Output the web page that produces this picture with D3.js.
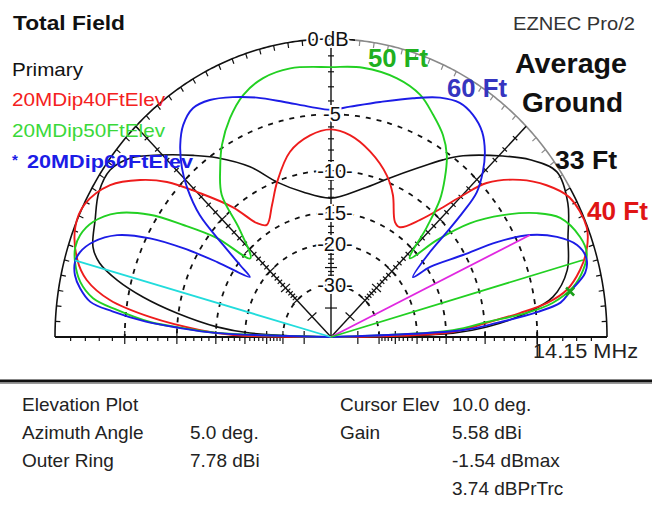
<!DOCTYPE html>
<html><head><meta charset="utf-8">
<script src="https://cdn.jsdelivr.net/npm/d3@7"></script>
<style>
html,body{margin:0;padding:0;background:#fff;}
svg{display:block;font-family:"Liberation Sans",Arial,sans-serif;}
</style></head><body>
<svg id="chart" width="652" height="508"></svg>
<script>
// Elevation patterns: [elevation angle (deg), gain in dB relative to the outer ring]
const trace33 = [[0,-99],[1.7,-14],[3.4,-9.8],[6.5,-5.8],[9.5,-3.5],[14.7,-2.1],[21.3,-1.4],[27.6,-0.55],[34.1,-0.2],[39.5,-1.15],[44.3,-2.4],[51.8,-4.4],[55.7,-5.65],[61.2,-7.5],[68.2,-9.5],[76.9,-11.5],[90,-13.1],[101.8,-12.0],[110.6,-10.1],[117.2,-7.6],[124.5,-5.4],[129.3,-4.1],[135.4,-2.4],[140.5,-1.0],[145,-0.4],[150,-0.5],[155.3,-1.05],[160.7,-1.55],[163.5,-2.3],[166.2,-3.9],[168.9,-6.3],[171.8,-9.8],[175.3,-15.1],[177.4,-21],[180,-99]];
const trace40 = [[0,-99],[2.2,-14.0],[4.8,-9.8],[6.7,-6.4],[8.3,-4.0],[10.5,-2.4],[14,-1.25],[17.5,-0.5],[21.7,-0.05],[28.5,-0.3],[33.1,-1.2],[37.6,-2.5],[42.5,-4.6],[44.9,-6.8],[47,-8.9],[50.6,-11.6],[55.9,-13.9],[59,-13.7],[64.8,-11.0],[69.5,-9.4],[77.2,-7.7],[84.2,-6.6],[90,-6.2],[96.4,-6.6],[103.5,-7.7],[110.6,-10.1],[115.8,-12.2],[121.7,-14.0],[125,-13.1],[129.2,-9.9],[134.5,-6.7],[138.8,-4.05],[142.7,-2.4],[147.5,-0.9],[153.4,-0.05],[158.3,-0.05],[164.3,-0.8],[167.8,-1.7],[171.2,-3.6],[174.2,-7.2],[177.2,-12.8],[178.9,-17.8],[180,-99]];
const trace50 = [[0,-99],[3.0,-14],[5.1,-9.7],[6.5,-5.8],[8.1,-3.6],[10.8,-1.95],[13.8,-1.05],[16.9,-0.55],[20.4,-0.65],[25.7,-1.4],[29.1,-2.7],[33.3,-5.05],[37.2,-7.9],[40.3,-11.8],[42.8,-16.2],[46.7,-11.7],[49.4,-8.6],[52.3,-6.75],[55.5,-5.15],[59.1,-4.05],[63.6,-3.15],[68.3,-2.3],[74.6,-1.8],[82.7,-1.6],[90,-1.7],[99.3,-1.55],[105.8,-1.75],[111.4,-2.35],[116.5,-3.4],[121.5,-4.8],[125.3,-6.25],[129.7,-8.2],[132.6,-12.3],[137.9,-16.0],[141.2,-10.9],[144.9,-7.3],[148,-4.4],[151.8,-2.2],[155.9,-0.97],[159.4,-0.5],[162.1,-0.45],[164.8,-0.68],[168.5,-1.3],[171.4,-2.35],[173.3,-4.25],[175.6,-7.2],[176.8,-10.7],[178.1,-15.2],[180,-99]];
const trace60 = [[0,-99],[2.8,-12.6],[4.5,-8.7],[6.4,-4.9],[7.9,-3.0],[10,-2.2],[13.2,-0.95],[16,-0.66],[19.1,-1.0],[22.3,-2.1],[25.4,-3.87],[27.9,-6.6],[29.9,-10.2],[33.2,-14.5],[34.1,-17.6],[38.5,-13.4],[40,-10.3],[41.2,-7.8],[42.6,-5.7],[45.2,-4.25],[48.1,-3.1],[51.5,-2.2],[55.4,-1.7],[59.3,-1.55],[63.8,-1.9],[69.7,-2.7],[77.3,-3.65],[84.9,-4.35],[90,-4.65],[95.6,-4.35],[102.4,-3.65],[108.5,-2.85],[113.8,-2.2],[118.9,-1.65],[123.1,-1.5],[127,-2.0],[130.3,-2.9],[133.6,-4.2],[136.2,-5.6],[139.3,-8.0],[141.7,-12.0],[143.8,-15.4],[145.6,-17.7],[148.6,-12.5],[150.9,-8.4],[153.2,-5.3],[156.2,-2.85],[159.7,-1.45],[162.6,-0.83],[164.8,-0.68],[167.4,-0.87],[169.8,-1.36],[172.3,-2.2],[173.8,-3.9],[175.6,-6.8],[176.8,-10.2],[178.1,-14.8],[180,-99]];

// Straight reference rays from the origin: [elevation, dB]
const rayCyan = [164.5, -0.65];
const rayMagenta = [25.4, -3.87];
const rayGreen = [15.8, -0.9];

// Grid rings and their labels
const ringLevels = [-5, -10, -15, -20, -30];
const ringLabels = ["-5", "-10-", "-15-", "-20-", "-30-"];

// Cursor readout
const outerRingDbi = 7.78;
const cursorElev = 10.0;
const cursorGainDbi = 5.58;

const legendNames = ["20MDip40FtElev", "20MDip50FtElev", "20MDip60FtElev"];
const infoLeft = [["Elevation Plot", ""], ["Azimuth Angle", "5.0 deg."], ["Outer Ring", "7.78 dBi"]];
const infoRight = [["Cursor Elev", "10.0 deg."], ["Gain", "5.58 dBi"], ["", "-1.54 dBmax"], ["", "3.74 dBPrTrc"]];

const svg = d3.select("#chart");
const cx = 331, cy = 337, RX = 276, RY = 298;

// ARRL log-periodic radial scale: dB -> normalized radius
const arrl = d3.scaleLog().domain([Math.pow(0.89, 15), 1]).range([-30, 0]);
const rad = dB => arrl.invert(dB);
const xs = d3.scaleLinear().domain([-1, 1]).range([cx - RX, cx + RX]);
const ys = d3.scaleLinear().domain([0, 1]).range([cy, cy - RY]);
const ptR = (el, r) => { const a = el * Math.PI / 180; return [xs(r * Math.cos(a)), ys(r * Math.sin(a))]; };
const pt = (el, dB) => ptR(el, rad(dB));

const smooth = d3.line().curve(d3.curveCatmullRom.alpha(0.5));
const straight = d3.line();

const g = svg.append("g");

// dashed rings
ringLevels.forEach(lv => {
  g.append("path")
    .attr("d", straight(d3.range(0, 180.5, 1).map(a => pt(a, lv))))
    .attr("fill", "none").attr("stroke", "#111").attr("stroke-width", 1.8)
    .attr("stroke-dasharray", "5,6");
});

// outer ring
g.append("path").attr("d", straight(d3.range(85, 180.5, 0.5).map(a => pt(a, 0))))
  .attr("fill", "none").attr("stroke", "#111").attr("stroke-width", 1.6);
g.append("path").attr("d", straight(d3.range(30, 85.5, 0.5).map(a => pt(a, 0))))
  .attr("fill", "none").attr("stroke", "#8a8a8a").attr("stroke-width", 1.6);
g.append("path").attr("d", straight(d3.range(0, 30.5, 0.5).map(a => pt(a, 0))))
  .attr("fill", "none").attr("stroke", "#111").attr("stroke-width", 1.6);
d3.range(0, 181, 3).forEach(a => {
  const p1 = ptR(a, 1), p2 = ptR(a, 0.982);
  g.append("line").attr("x1", p1[0]).attr("y1", p1[1]).attr("x2", p2[0]).attr("y2", p2[1])
    .attr("stroke", a > 30 && a < 85 ? "#8a8a8a" : "#111").attr("stroke-width", 1.2);
});

// radial axes with cross ticks
const tickLevels = d3.range(-1, -31, -1).concat([-40]);
const major = new Set([-5, -10, -15, -20, -25, -30, -40]);
[45, 90, 135].forEach(a => {
  const o = ptR(a, 0), e = pt(a, 0);
  g.append("line").attr("x1", o[0]).attr("y1", o[1]).attr("x2", e[0]).attr("y2", e[1])
    .attr("stroke", "#111").attr("stroke-width", 1.4);
  const ar = a * Math.PI / 180;
  let px = Math.sin(ar) * RY, py = Math.cos(ar) * RX;
  const n = Math.hypot(px, py); px /= n; py /= n;
  tickLevels.forEach(lv => {
    const c = pt(a, lv), L = major.has(lv) ? 6 : 3;
    g.append("line").attr("x1", c[0] - px * L).attr("y1", c[1] - py * L)
      .attr("x2", c[0] + px * L).attr("y2", c[1] + py * L)
      .attr("stroke", "#111").attr("stroke-width", 1.2);
  });
});

// baseline with ticks
g.append("line").attr("x1", xs(-1)).attr("x2", xs(1)).attr("y1", cy).attr("y2", cy)
  .attr("stroke", "#111").attr("stroke-width", 2.2);
[-1, 1].forEach(s => {
  tickLevels.forEach(lv => {
    const x = cx + s * rad(lv) * RX;
    const big = major.has(lv);
    g.append("line").attr("x1", x).attr("x2", x)
      .attr("y1", big ? cy - 6 : cy).attr("y2", cy + (big ? 7 : 4))
      .attr("stroke", "#111").attr("stroke-width", 1.2);
  });
});
// frequency tick
const fx = cx + rad(-5) * RX;
g.append("line").attr("x1", fx).attr("x2", fx).attr("y1", cy - 7).attr("y2", cy + 20)
  .attr("stroke", "#111").attr("stroke-width", 1.3);

// pattern traces
const traces = [
  { data: trace33, color: "#111", w: 1.6 },
  { data: trace40, color: "#ee1c1c", w: 1.9 },
  { data: trace50, color: "#22d022", w: 1.9 },
  { data: trace60, color: "#1c1ce6", w: 1.9 }
];
traces.forEach(t => {
  g.append("path").attr("d", smooth(t.data.map(d => pt(d[0], d[1]))))
    .attr("fill", "none").attr("stroke", t.color).attr("stroke-width", t.w)
    .attr("stroke-linejoin", "round");
});

// reference rays
[[rayCyan, "#22dcdc"], [rayMagenta, "#e028e0"], [rayGreen, "#22d022"]].forEach(([r, c]) => {
  const o = ptR(r[0], 0), e = pt(r[0], r[1]);
  g.append("line").attr("x1", o[0]).attr("y1", o[1]).attr("x2", e[0]).attr("y2", e[1])
    .attr("stroke", c).attr("stroke-width", 1.8);
});

// cursor marker
const cm = pt(cursorElev, cursorGainDbi - outerRingDbi);
g.append("path").attr("d", `M${cm[0]-4},${cm[1]-4}L${cm[0]+4},${cm[1]+4}M${cm[0]-4},${cm[1]+4}L${cm[0]+4},${cm[1]-4}`)
  .attr("stroke", "#1aa01a").attr("stroke-width", 2.6);

// axis labels on the vertical axis
const axisLabel = (txt, x, y) => svg.append("text").attr("x", x).attr("y", y)
  .attr("text-anchor", "middle").attr("font-size", 20).attr("fill", "#111")
  .attr("stroke", "#fff").attr("stroke-width", 4).attr("paint-order", "stroke")
  .text(txt);
axisLabel("0 dB", 328, pt(90, 0)[1] + 7);
ringLevels.forEach((lv, i) => {
  const y = pt(90, lv)[1] + 7;
  axisLabel(ringLabels[i], i === 0 ? 332 : 335, y);
});

// title block
const txt = (s, x, y, o) => {
  const t = svg.append("text").attr("x", x).attr("y", y).text(s)
    .attr("font-size", o.size).attr("fill", o.fill || "#111")
    .attr("font-weight", o.bold ? "bold" : "normal");
  if (o.len) t.attr("textLength", o.len).attr("lengthAdjust", "spacingAndGlyphs");
  if (o.anchor) t.attr("text-anchor", o.anchor);
  return t;
};
txt("Total Field", 13, 30, { size: 21, bold: true, len: 112 });
txt("EZNEC Pro/2", 513, 30, { size: 19, fill: "#333", len: 122 });
txt("Primary", 12, 76, { size: 19, len: 71 });
txt(legendNames[0], 12, 106, { size: 19, fill: "#f42020", len: 153 });
txt(legendNames[1], 12, 137, { size: 19, fill: "#3ad83a", len: 153 });
txt("*", 12, 165, { size: 15, fill: "#1c1ce6", bold: true });
txt(legendNames[2], 27, 168, { size: 19, fill: "#1c1ce6", bold: true, len: 166 });

// annotations
txt("50 Ft", 368, 67, { size: 25, fill: "#20b020", bold: true, len: 60 });
txt("60 Ft", 447, 97, { size: 25, fill: "#3535c0", bold: true, len: 60 });
txt("Average", 515, 73, { size: 27, bold: true, len: 112 });
txt("Ground", 522, 112, { size: 27, bold: true, len: 101 });
txt("33 Ft", 555, 169, { size: 25, bold: true, len: 62 });
txt("40 Ft", 587, 220, { size: 25, fill: "#e01515", bold: true, len: 61 });
txt("14.15 MHz", 533, 358, { size: 20, fill: "#222", len: 105 });

// separator
svg.append("line").attr("x1", 0).attr("x2", 652).attr("y1", 381).attr("y2", 381)
  .attr("stroke", "#111").attr("stroke-width", 3);
svg.append("line").attr("x1", 0).attr("x2", 652).attr("y1", 383.5).attr("y2", 383.5)
  .attr("stroke", "#999").attr("stroke-width", 1);

// info panel
const rowY = [411, 439, 467, 495];
infoLeft.forEach((r, i) => {
  txt(r[0], 22, rowY[i], { size: 19, fill: "#222" });
  if (r[1]) txt(r[1], 190, rowY[i], { size: 19, fill: "#222" });
});
infoRight.forEach((r, i) => {
  if (r[0]) txt(r[0], 340, rowY[i], { size: 19, fill: "#222" });
  txt(r[1], 452, rowY[i], { size: 19, fill: "#222" });
});
</script></body></html>
